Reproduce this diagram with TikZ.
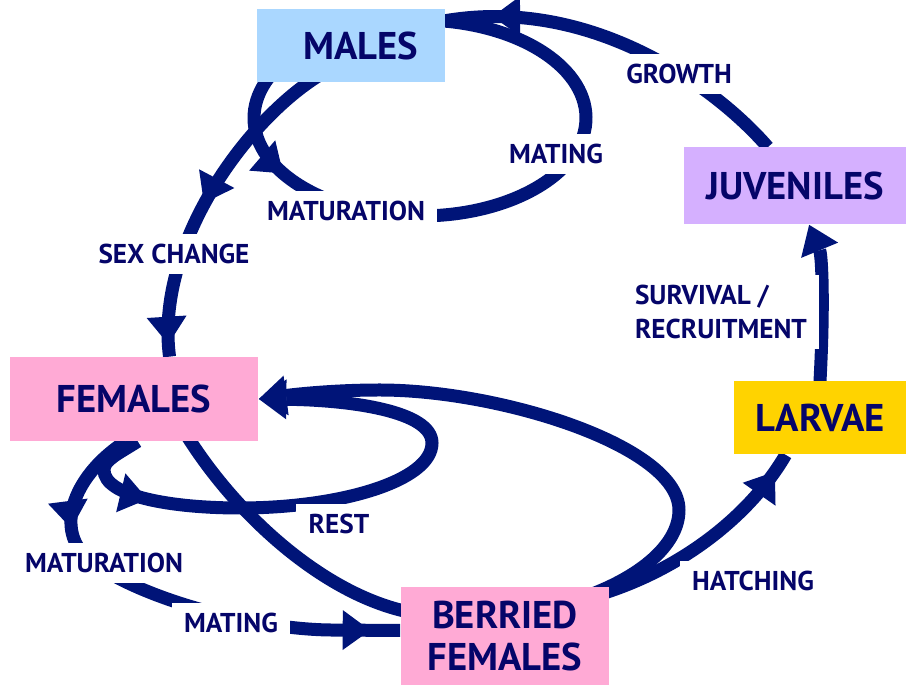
\documentclass[tikz,border=0pt]{standalone}
\usepackage{fontspec}
\setmainfont{PT Sans}
\usepackage{xcolor}
\usepackage{tikz}
\usetikzlibrary{arrows.meta, positioning, decorations.markings, backgrounds}
\definecolor{navycolor}{RGB}{0, 20, 120}
\definecolor{inkcolor}{RGB}{5, 5, 105}
\definecolor{malecolor}{RGB}{170, 215, 255}
\definecolor{juvcolor}{RGB}{213, 176, 255}
\definecolor{larvcolor}{RGB}{255, 211, 0}
\definecolor{femcolor}{RGB}{255, 170, 213}

\begin{document}
\begin{tikzpicture}[
    x=0.02cm, y=0.02cm,
    stagebox/.style={rectangle, inner sep=0pt, align=center, text=inkcolor, font=\fontsize{22}{24}\selectfont\bfseries},
    lbl/.style={fill=white, inner xsep=7pt, inner ysep=6pt, align=left, text=inkcolor, font=\fontsize{15.5}{19}\selectfont\bfseries},
    cycleline/.style={line width=0.26cm, navycolor},
    headend/.style={-{Triangle[width=0.8cm, length=0.55cm, line width=0pt]}},
    midhead/.style={postaction={decorate, decoration={markings, mark=at position #1 with {\arrow{Triangle[width=0.8cm, length=0.55cm, line width=0pt]}}}}}
]
    \useasboundingbox (0,0) rectangle (907,686);

    % Life stages
    \node[stagebox, fill=malecolor, minimum width=3.76cm, minimum height=1.46cm] (males) at (351,640) {\hspace{0.4cm}MALES};
    \node[stagebox, fill=juvcolor, minimum width=4.44cm, minimum height=1.54cm] (juveniles) at (795,500) {JUVENILES};
    \node[stagebox, fill=larvcolor, minimum width=3.44cm, minimum height=1.46cm] (larvae) at (820,268) {LARVAE};
    \node[stagebox, fill=femcolor, minimum width=4.98cm, minimum height=1.68cm] (females) at (134,287) {FEMALES};
    \node[stagebox, fill=femcolor, minimum width=4.18cm, minimum height=1.98cm] (berried) at (505,50) {BERRIED\\FEMALES};

    % Transitions
    \begin{scope}[on background layer]
        \coordinate (maleloop) at (420,568);
        \draw[cycleline, midhead=0.23] ([shift={(130:166 and 98)}]maleloop) arc[start angle=130, end angle=445, x radius=166, y radius=98];
        \draw[cycleline, midhead=-0.95cm] (juveniles.125) .. controls (715,600) and (590,690) .. (males.15);
        \draw[cycleline, shorten <=-0.3cm, midhead=0.5, midhead=-0.25cm] (males.220) .. controls (245,565) and (155,440) .. (females.50);
        \draw[cycleline, headend] (larvae.north) .. controls (824,380) and (822,430) .. (juveniles.290);
        \draw[cycleline, shorten <=-0.3cm, midhead=-0.4cm] (berried.23) .. controls (680,115) and (750,170) .. (larvae.227);
        \draw[cycleline, headend, shorten <=-0.3cm] (females.-37) .. controls (235,170) and (330,85) .. (420,72)
            .. controls (540,55) and (679,110) .. (679,176)
            .. controls (679,240) and (500,296) .. (380,296)
            .. controls (330,296) and (290,291) .. (females.east);
        \draw[cycleline, headend, midhead=0.17] (females.-85) .. controls (118,232) and (104,226) .. (104,216)
            .. controls (104,190) and (170,178) .. (240,178)
            .. controls (340,178) and (432,205) .. (432,243)
            .. controls (432,275) and (350,286) .. (females.east);
        \draw[cycleline, midhead=0.23, midhead=-0.6cm] (females.259) .. controls (75,212) and (55,160) .. (85,130)
            .. controls (130,90) and (250,57) .. (330,56) -- (berried.177);
    \end{scope}

    % Labels
    \node[lbl] (growth) at (679,612) {GROWTH};
    \node[lbl] (matingm) at (556,532) {MATING};
    \node[lbl] (maturm) at (346,475) {MATURATION};
    \node[lbl] (sexchange) at (174,432) {SEX CHANGE};
    \node[lbl] (survival) at (721,374) {SURVIVAL /\\RECRUITMENT};
    \node[lbl] (rest) at (339,162) {REST};
    \node[lbl] (maturf) at (104,123) {MATURATION};
    \node[lbl] (matingf) at (231,63) {MATING};
    \node[lbl] (hatching) at (753,105) {HATCHING};
\end{tikzpicture}
\end{document}
